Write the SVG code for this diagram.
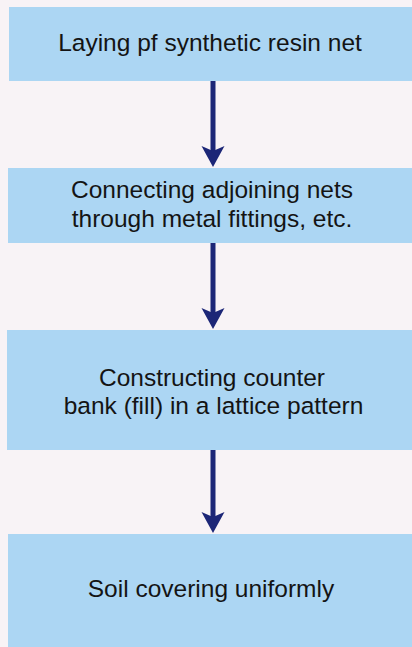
<svg xmlns="http://www.w3.org/2000/svg" width="412" height="647" viewBox="0 0 412 647">
<defs>
<style>
.box{fill:#acd6f3;}
.lbl{font-family:"Liberation Sans",Arial,sans-serif;font-size:24.5px;fill:#141414;text-anchor:middle;}
.conn{stroke:#1c2677;stroke-width:5;fill:none;}
</style>
<marker id="ah" markerUnits="userSpaceOnUse" viewBox="0 0 21 24" markerWidth="21" markerHeight="24" refX="5" refY="12" orient="auto">
<path d="M0,0.5 L21,12 L0,23.5 L5,12 z" fill="#1c2677"/>
</marker>
</defs>
<rect width="412" height="647" fill="#f8f3f6"/>
<g id="connectors">
<line class="conn" x1="213" y1="81" x2="213" y2="151" marker-end="url(#ah)"/>
<line class="conn" x1="213" y1="243" x2="213" y2="313" marker-end="url(#ah)"/>
<line class="conn" x1="213" y1="450" x2="213" y2="517" marker-end="url(#ah)"/>
</g>
<g id="n1">
<rect class="box" x="9" y="7" width="403" height="74"/>
<text class="lbl" x="210" y="51">Laying pf synthetic resin net</text>
</g>
<g id="n2">
<rect class="box" x="8" y="168" width="404" height="75"/>
<text class="lbl" x="212" y="198">Connecting adjoining nets</text>
<text class="lbl" x="212" y="227">through metal fittings, etc.</text>
</g>
<g id="n3">
<rect class="box" x="7" y="330" width="405" height="120"/>
<text class="lbl" x="212" y="386">Constructing counter</text>
<text class="lbl" x="213.5" y="414">bank (fill) in a lattice pattern</text>
</g>
<g id="n4">
<rect class="box" x="8" y="534" width="404" height="113"/>
<text class="lbl" x="211" y="597">Soil covering uniformly</text>
</g>
</svg>
